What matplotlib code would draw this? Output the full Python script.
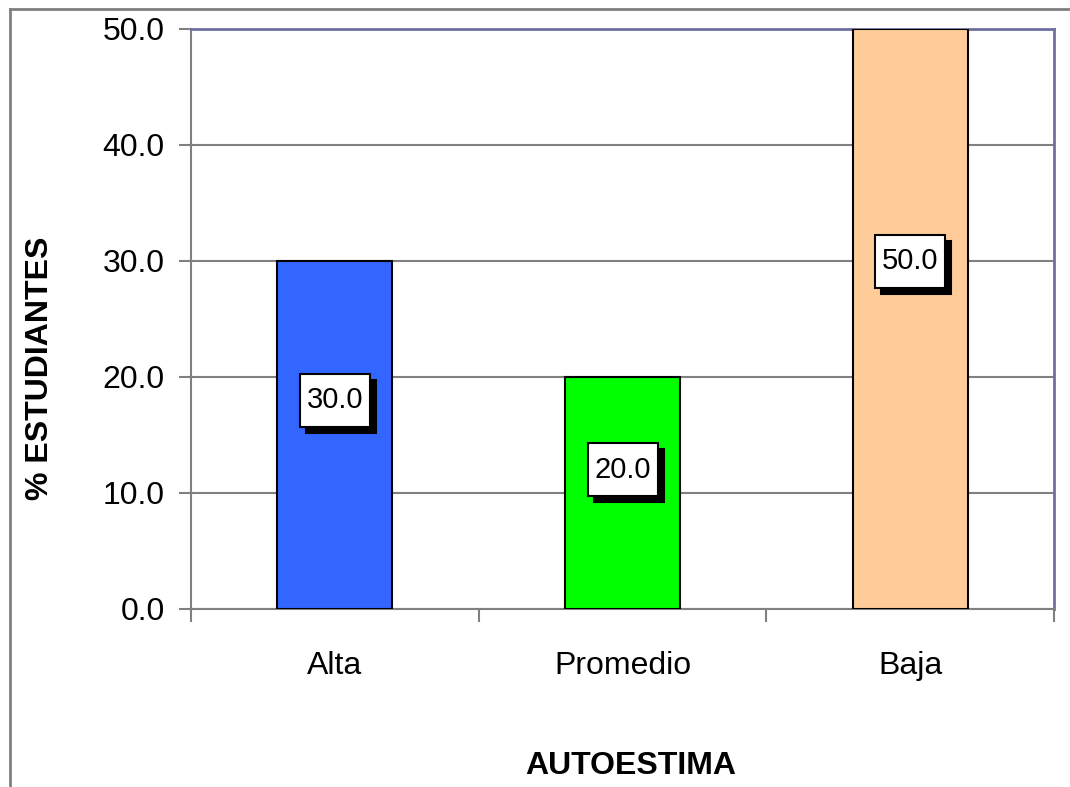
import matplotlib
matplotlib.use("Agg")
import matplotlib.pyplot as plt
import matplotlib.transforms as mtransforms
from matplotlib.lines import Line2D
from matplotlib.patches import Rectangle

plt.rcParams['font.family'] = ['Liberation Sans', 'DejaVu Sans']

categorias = ["Alta", "Promedio", "Baja"]
porcentajes = [30.0, 20.0, 50.0]
colores = ["#3366FF", "#00FF00", "#FFCC99"]
yticks = [0, 10, 20, 30, 40, 50]

fig = plt.figure(figsize=(10.7, 7.87), dpi=100)
ax = fig.add_axes([191 / 1070, 1 - 609 / 787, (1054 - 191) / 1070, (609 - 29) / 787])

# outer chart frame (left and top only visible)
fig.add_artist(Line2D([10 / 1070, 10 / 1070], [0, 1 - 9 / 787], transform=fig.transFigure,
                      color="#808080", lw=2))
fig.add_artist(Line2D([10 / 1070, 1], [1 - 9 / 787, 1 - 9 / 787], transform=fig.transFigure,
                      color="#808080", lw=2))

x = range(len(categorias))
ax.bar(x, porcentajes, width=0.4, color=colores, edgecolor="black", linewidth=1.5, zorder=3)

ax.set_xlim(-0.5, 2.5)
ax.set_ylim(0, 50)
ax.set_yticks(yticks)
ax.set_yticklabels(["%.1f" % t for t in yticks], fontsize=23)
ax.yaxis.grid(True, color="#808080", lw=1.5, zorder=0)
ax.set_xticks(list(x))
ax.set_xticklabels(categorias, fontsize=23)
ax.set_xticks([-0.5, 0.5, 1.5, 2.5], minor=True)
ax.tick_params(axis="x", which="major", length=0, pad=30)
ax.tick_params(axis="x", which="minor", length=9, width=1.5, color="#808080", direction="out")
ax.tick_params(axis="y", length=9, width=1.5, color="#808080", direction="out", pad=10)

for s in ["left", "bottom"]:
    ax.spines[s].set_color("#808080")
    ax.spines[s].set_linewidth(1.5)
for s in ["top", "right"]:
    ax.spines[s].set_color("#7070A0")
    ax.spines[s].set_linewidth(2)

ax.set_ylabel("% ESTUDIANTES", fontsize=23, fontweight="bold")
ax.yaxis.set_label_coords(-0.158, (609 - 368) / 580)
ax.set_xlabel("AUTOESTIMA", fontsize=23, fontweight="bold")
ax.xaxis.set_label_coords(0.509, -0.245)

# data labels with shadowed boxes (box size in inches)
bw, bh, off = 0.70, 0.53, 0.06
for i, v in enumerate(porcentajes):
    ypos = v * 0.6
    tr = fig.dpi_scale_trans + mtransforms.ScaledTranslation(i, ypos, ax.transData)
    ax.add_patch(Rectangle((-bw / 2 + off, -bh / 2 - off), bw, bh, transform=tr,
                           fc="black", ec="black", lw=1.5, zorder=4, clip_on=False))
    ax.add_patch(Rectangle((-bw / 2, -bh / 2), bw, bh, transform=tr,
                           fc="white", ec="black", lw=1.5, zorder=5, clip_on=False))
    ax.text(i, ypos, "%.1f" % v, ha="center", va="center", fontsize=21, color="black", zorder=6)

fig.savefig("out.png", dpi=100)
